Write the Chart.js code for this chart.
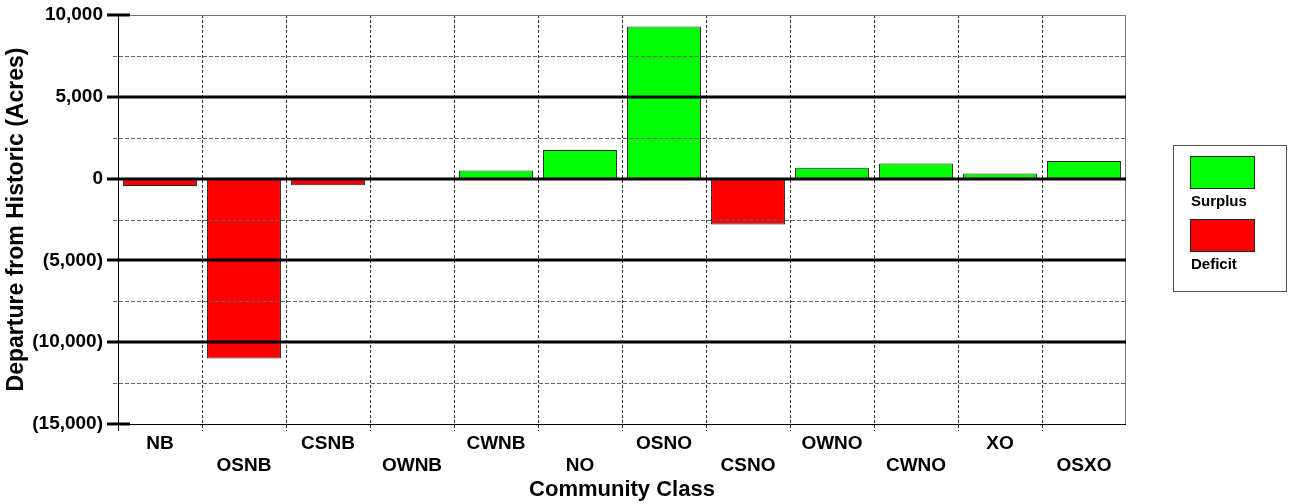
<!DOCTYPE html>
<html>
<head>
<meta charset="utf-8">
<script src="https://cdn.jsdelivr.net/npm/chart.js@4"></script>
<style>
  html, body { margin: 0; padding: 0; background: #fff; }
  #wrap { position: relative; width: 1293px; height: 504px; }
  #legend {
    position: absolute; left: 1173px; top: 145px; width: 114px; height: 147px;
    border: 1px solid #555; box-sizing: border-box;
    font-family: "Liberation Sans", Arial, sans-serif; font-weight: bold; font-size: 15px; color: #000;
  }
  .item { position: absolute; left: 16px; }
  .swatch { width: 65px; height: 33px; border: 1px solid #222; box-sizing: border-box; }
  .item span { display: block; line-height: 17px; margin-top: 3px; margin-left: 1px; }
</style>
</head>
<body>
<div id="wrap">
  <canvas id="chart" width="1293" height="504"></canvas>
  <div id="legend"></div>
</div>
<script>
const categories = ['NB', 'OSNB', 'CSNB', 'OWNB', 'CWNB', 'NO', 'OSNO', 'CSNO', 'OWNO', 'CWNO', 'XO', 'OSXO'];
const departure = [-450, -11000, -400, 0, 500, 1750, 9300, -2800, 670, 920, 310, 1080];

const legendLabels = ['Surplus', 'Deficit'];
const SURPLUS = '#00ff00';
const DEFICIT = '#ff0000';

Chart.defaults.font.family = '"Liberation Sans", Arial, sans-serif';
Chart.defaults.color = '#000';

const formatAcres = (v) => {
  const s = Math.abs(v).toString().replace(/\B(?=(\d{3})+(?!\d))/g, ',');
  return v < 0 ? '(' + s + ')' : s;
};

// grid lines sit on top of the bars in the original
const gridOverlay = {
  id: 'gridOverlay',
  afterDatasetsDraw(chart) {
    const { ctx, chartArea: a, scales: { x, y } } = chart;
    ctx.save();

    // minor dashed lines
    ctx.setLineDash([4, 2]);
    ctx.strokeStyle = '#666';
    ctx.lineWidth = 1;
    y.ticks.forEach(t => {
      if (t.value % 5000 === 0) return;
      const py = Math.round(y.getPixelForValue(t.value)) + 0.5;
      ctx.beginPath();
      ctx.moveTo(a.left - 5, py);
      ctx.lineTo(a.right, py);
      ctx.stroke();
    });

    // category separators
    ctx.setLineDash([3, 2]);
    ctx.strokeStyle = '#333';
    for (let i = 1; i < categories.length; i++) {
      const px = Math.round((x.getPixelForValue(i - 1) + x.getPixelForValue(i)) / 2) + 0.5;
      ctx.beginPath();
      ctx.moveTo(px, a.top);
      ctx.lineTo(px, a.bottom + 7);
      ctx.stroke();
    }
    ctx.setLineDash([]);

    // frame
    const top = Math.round(a.top) + 0.5;
    const bottom = Math.round(a.bottom) + 0.5;
    ctx.strokeStyle = '#777';
    ctx.beginPath();
    ctx.moveTo(a.left, top);
    ctx.lineTo(a.right, top);
    ctx.moveTo(Math.round(a.right) - 0.5, a.top);
    ctx.lineTo(Math.round(a.right) - 0.5, a.bottom);
    ctx.stroke();
    ctx.strokeStyle = '#000';
    ctx.beginPath();
    ctx.moveTo(a.left, bottom);
    ctx.lineTo(a.right, bottom);
    ctx.moveTo(Math.round(a.left) + 0.5, a.top);
    ctx.lineTo(Math.round(a.left) + 0.5, a.bottom + 7);
    ctx.stroke();

    // major lines and ticks
    ctx.lineWidth = 3;
    y.ticks.forEach(t => {
      if (t.value % 5000 !== 0) return;
      const py = Math.round(y.getPixelForValue(t.value));
      const inner = t.value !== y.min && t.value !== y.max;
      ctx.beginPath();
      ctx.moveTo(a.left - 11, py);
      ctx.lineTo(inner ? a.right : a.left + 12, py);
      ctx.stroke();
    });
    ctx.restore();
  }
};

new Chart(document.getElementById('chart'), {
  type: 'bar',
  data: {
    labels: categories,
    datasets: [{
      data: departure,
      backgroundColor: departure.map(v => v >= 0 ? SURPLUS : DEFICIT),
      borderColor: '#222',
      borderWidth: 1,
      borderSkipped: false,
      barPercentage: 0.88,
      categoryPercentage: 1
    }]
  },
  options: {
    responsive: false,
    animation: false,
    layout: { padding: { left: 0, right: 167, top: 15, bottom: 0 } },
    plugins: {
      legend: { display: false },
      tooltip: { enabled: false }
    },
    scales: {
      x: {
        grid: { display: false },
        border: { display: false },
        ticks: {
          autoSkip: false,
          maxRotation: 0,
          padding: 0,
          font: { size: 19, weight: 'bold' },
          callback: (v, i) => i % 2 ? ['', categories[i]] : categories[i]
        },
        title: {
          display: true,
          text: 'Community Class',
          font: { size: 22, weight: 'bold' },
          padding: { top: 0, bottom: 1 }
        },
        afterFit: (s) => { s.height = 80; s.paddingTop = 0; }
      },
      y: {
        min: -15000,
        max: 10000,
        grid: { display: false },
        border: { display: false },
        ticks: {
          stepSize: 2500,
          padding: 7,
          font: { size: 19, weight: 'bold' },
          callback: (v) => v % 5000 === 0 ? formatAcres(v) : ''
        },
        title: {
          display: true,
          text: 'Departure from Historic (Acres)',
          font: { size: 23, weight: 'bold' },
          padding: { top: 3, bottom: 0 }
        },
        afterFit: (s) => { s.width = 118; s.paddingTop = 0; s.paddingBottom = 0; }
      }
    }
  },
  plugins: [gridOverlay]
});

// legend: swatch with label underneath
const legend = document.getElementById('legend');
[SURPLUS, DEFICIT].forEach((color, i) => {
  const item = document.createElement('div');
  item.className = 'item';
  item.style.top = (10 + i * 63) + 'px';
  item.innerHTML = '<div class="swatch" style="background:' + color + '"></div><span>' + legendLabels[i] + '</span>';
  legend.appendChild(item);
});
</script>
</body>
</html>
